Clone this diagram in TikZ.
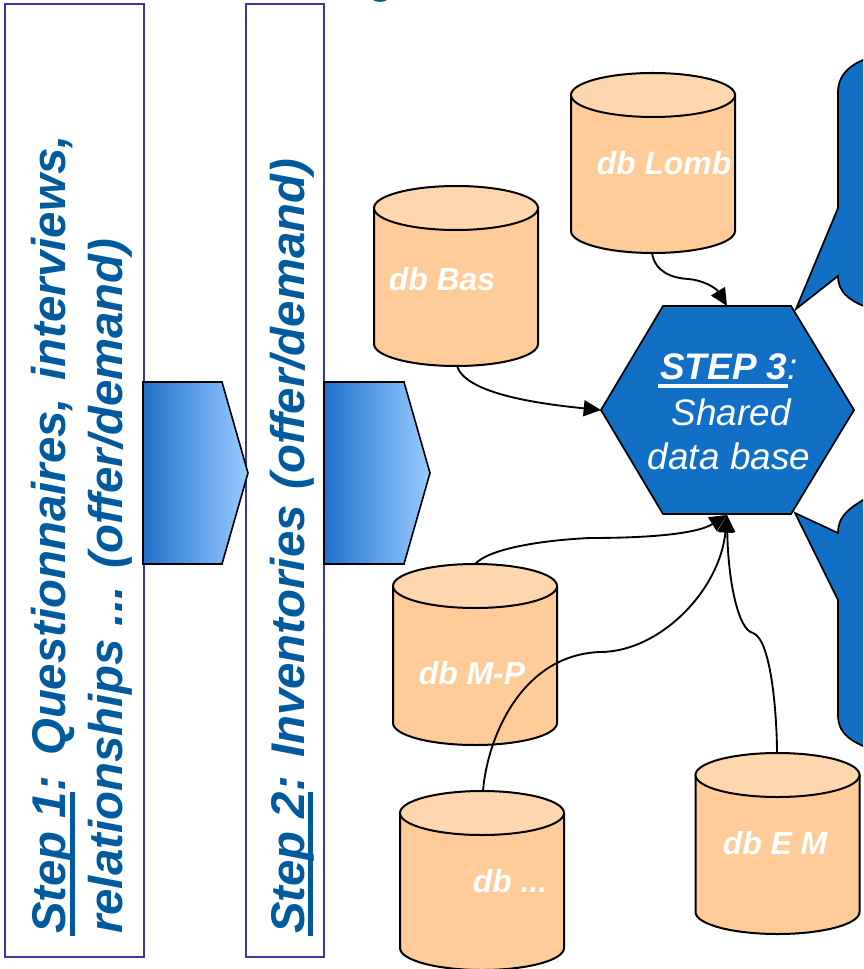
\documentclass[tikz,border=0pt]{standalone}
\usepackage{fontspec}
\setmainfont{Liberation Sans}
\usetikzlibrary{arrows.meta}
\definecolor{rectblue}{HTML}{3B35A5}
\definecolor{stepblue}{HTML}{005A9E}
\definecolor{hexblue}{HTML}{116FC6}
\definecolor{gradA}{HTML}{2070CC}
\definecolor{gradB}{HTML}{99CCFF}
\definecolor{dbbody}{HTML}{FFCC99}
\definecolor{dbtop}{HTML}{FFD6AD}
\newcommand\myul[3]{\setbox0\hbox{#3}\rlap{\kern-2pt\vrule width\dimexpr\wd0+2pt\relax height -#1 depth \dimexpr#1+#2\relax}\box0}
\newcommand\dbcyl[7]{% name, left, top, bottom, label, lx, ly
  \pgfmathsetmacro\xl{#2}\pgfmathsetmacro\xr{#2+164}\pgfmathsetmacro\xc{#2+82}
  \pgfmathsetmacro\kxl{\xc-45.3}\pgfmathsetmacro\kxr{\xc+45.3}
  \pgfmathsetmacro\yt{#3+22}\pgfmathsetmacro\yb{#4-22}
  \pgfmathsetmacro\ktu{\yt-12.15}\pgfmathsetmacro\ktd{\yt+12.15}\pgfmathsetmacro\kbd{\yb+12.15}
  \draw[dbline,fill=dbbody] (\xl,\yt) -- (\xl,\yb) .. controls (\xl,\kbd) and (\kxl,#4) .. (\xc,#4)
     .. controls (\kxr,#4) and (\xr,\kbd) .. (\xr,\yb) -- (\xr,\yt) -- cycle;
  \draw[dbline,fill=dbtop] (\xl,\yt) .. controls (\xl,\ktu) and (\kxl,#3) .. (\xc,#3)
     .. controls (\kxr,#3) and (\xr,\ktu) .. (\xr,\yt)
     .. controls (\xr,\ktd) and (\kxr,\yt+22) .. (\xc,\yt+22)
     .. controls (\kxl,\yt+22) and (\xl,\ktd) .. (\xl,\yt) -- cycle;
  \node[dblabel] (#1) at (#6,#7) {#5};
}
\tikzset{
  dbline/.style={draw=black,line width=1.5pt},
  dblabel/.style={text=white,font=\fontsize{23.9pt}{28pt}\selectfont\bfseries\itshape,inner sep=0pt},
  steprect/.style={draw=rectblue,line width=1.5pt,fill=white},
  steptext/.style={text=stepblue,font=\fontsize{35.5pt}{43pt}\selectfont\bfseries\itshape,rotate=90,anchor=base west,inner sep=0pt},
  flowarrow/.style={draw=black,line width=1.2pt,left color=gradA,right color=gradB},
  hexshape/.style={draw=black,line width=1.3pt,fill=hexblue},
  hextext/.style={inner sep=0pt,anchor=base,text=white,font=\fontsize{27.7pt}{33pt}\selectfont\itshape},
  callout/.style={draw=black,line width=1.3pt,fill=hexblue},
  conn/.style={draw=black,line width=1.4pt,-{Triangle[length=13pt,width=12pt]}},
}
\begin{document}
\begin{tikzpicture}[x=0.75pt,y=-0.75pt]
\useasboundingbox (0,0) rectangle (863,969);
\clip (0,0) rectangle (863,969);
% title fragment
\fill[stepblue] (373,0) .. controls (376,2.5) and (384,2.5) .. (387,0) -- cycle;
% step boxes
\draw[steprect] (5,4) rectangle (144,957);
\draw[steprect] (246,4) rectangle (324,957);
\node[steptext] (s1a) at (65.7,934) {\myul{3.2pt}{3.6pt}{Step 1}:\kern2pt{} Questionnaires,\kern3.5pt{} interviews,};
\node[steptext] (s1b) at (122.7,934) {relationships ... (offer/demand)};
\node[steptext] (s2) at (304,934) {\myul{3.2pt}{3.6pt}{Step 2}:\kern.5pt{} Inventories\kern2pt{} (offer/demand)};
% flow arrows
\path[flowarrow] (143,382) -- (222,382) -- (248,473) -- (222,564) -- (143,564) -- cycle;
\path[flowarrow] (324,382) -- (404,382) -- (430,473) -- (404,564) -- (324,564) -- cycle;
% callouts
\draw[callout] (880,55) .. controls (855,60) and (838,72) .. (838,92) -- (838,208) -- (796,309)
   -- (838,276) .. controls (838,292) and (848,302) .. (880,312) -- cycle;
\draw[callout] (880,490) .. controls (855,505) and (838,512) .. (838,533) -- (795,513)
   -- (838,600) -- (838,715) .. controls (838,733) and (850,743) .. (880,752) -- cycle;
% hexagon
\draw[hexshape] (601,410) -- (663,306) -- (791,306) -- (854,410) -- (791,514) -- (663,514) -- cycle;
\coordinate (hexT) at (727,306);
\coordinate (hexL) at (601,410);
\coordinate (hexB) at (727,515);
\node[hextext] (hexa) at (729,379) {\myul{4pt}{2.6pt}{\bfseries STEP 3}:};
\node[hextext] (hexb) at (731,425) {Shared};
\node[hextext] (hexc) at (729,469) {data base};
% databases
\dbcyl{dbLomb}{571}{73}{253}{db Lomb}{664}{163}
\dbcyl{dbBas}{374}{186}{366}{db Bas}{442}{279}
\dbcyl{dbMP}{393}{564}{745}{db M-P}{472}{673}
\dbcyl{dbX}{400}{791}{970}{db ...}{510}{881}
\dbcyl{dbEM}{695.5}{753}{934}{db E M}{775}{843}
\coordinate (outLomb) at (652,253);
\coordinate (outBas) at (457,366);
\coordinate (outMP) at (475,564);
\coordinate (outX) at (483,791);
\coordinate (outEM) at (777,753);
% connectors
\draw[conn] (outLomb) .. controls (655,272) and (672,278) .. (688,279) .. controls (703,280) and (716,288) .. (hexT);
\draw[conn] (outBas) .. controls (465,392) and (530,403) .. (hexL);
\draw[conn] (outMP) .. controls (490,548) and (545,540) .. (590,538) .. controls (640,538) and (695,535) .. (hexB);
\draw[conn] (outX) .. controls (487,740) and (520,655) .. (600,652) .. controls (660,652) and (720,590) .. (hexB);
\draw[conn] (outEM) .. controls (777,720) and (772,640) .. (753,633) .. controls (738,630) and (728,580) .. (hexB);
\end{tikzpicture}
\end{document}
